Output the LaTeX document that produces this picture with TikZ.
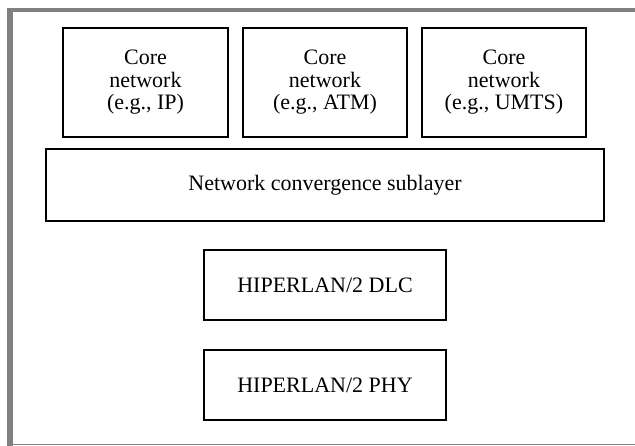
\documentclass[tikz,border=0pt]{standalone}
\usepackage{fontspec}
\setmainfont{Liberation Serif}
\definecolor{framegray}{RGB}{128,128,128}
\begin{document}
\begin{tikzpicture}[x=1pt,y=-1pt,
  layerbox/.style={draw=black,line width=1.3pt,fill=white,inner sep=0pt,
    font=\fontsize{22}{22.5}\selectfont,align=center},
]
\useasboundingbox (0,0) rectangle (635,446);
% page frame
\fill[framegray] (7,8) rectangle (635,12.5);
\fill[framegray] (7,8) rectangle (12.5,446);
\draw[framegray,line width=1pt] (7,444.5) -- (635,444.5);

% core networks
\node[layerbox,minimum width=165pt,minimum height=109pt] (ip) at (145.5,82.5)
  {Core\\network\\(e.g., IP)};
\node[layerbox,minimum width=164pt,minimum height=109pt] (atm) at (325,82.5)
  {Core\\network\\(e.g., ATM)};
\node[layerbox,minimum width=164pt,minimum height=109pt] (umts) at (504,82.5)
  {Core\\network\\(e.g., UMTS)};

% convergence layer and HIPERLAN/2 layers
\node[layerbox,minimum width=558pt,minimum height=72pt] (ncs) at (325,185)
  {Network convergence sublayer};
\node[layerbox,minimum width=242pt,minimum height=70pt] (dlc) at (325,285)
  {HIPERLAN/2 DLC};
\node[layerbox,minimum width=242pt,minimum height=70pt] (phy) at (325,385)
  {HIPERLAN/2 PHY};
\end{tikzpicture}
\end{document}
